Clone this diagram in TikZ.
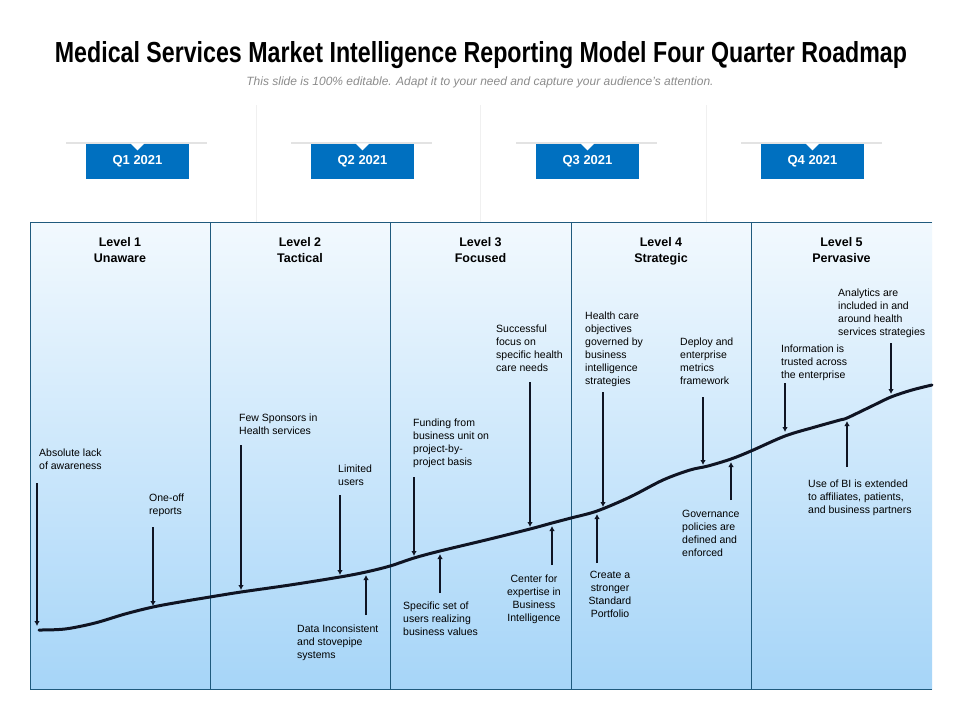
\documentclass[tikz,border=0pt]{standalone}
\usepackage{fontspec}
\setmainfont{Liberation Sans}
\usetikzlibrary{arrows.meta,calc}
\definecolor{qblue}{RGB}{0,112,192}
\definecolor{panelline}{RGB}{31,90,125}
\definecolor{ptop}{RGB}{242,249,254}
\definecolor{pmid}{RGB}{206,232,251}
\definecolor{pbot}{RGB}{166,213,248}
\definecolor{arrowc}{RGB}{15,20,35}
\definecolor{subgray}{RGB}{140,140,140}
\begin{document}
\begin{tikzpicture}[x=1pt,y=-1pt,
  tab/.style={fill=qblue, text=white, font=\bfseries\fontsize{13}{15}\selectfont, minimum width=103pt, minimum height=35pt, inner sep=0},
  lvl/.style={font=\bfseries\fontsize{12.5}{16}\selectfont, align=center, anchor=north, inner sep=0},
  anno/.style={font=\fontsize{10.5}{13}\selectfont, align=left, anchor=north west, inner sep=0},
  annoc/.style={font=\fontsize{10.5}{13}\selectfont, align=center, anchor=north, inner sep=0},
  arr/.style={line width=2.2pt, draw=arrowc, -{Latex[length=5pt,width=5.5pt]}},
  colline/.style={draw=panelline, line width=1pt},
  faint/.style={draw=gray!12, line width=0.8pt},
  tabshadow/.style={draw=gray!22, line width=1.6pt}
]
\useasboundingbox (0,0) rectangle (960,720);
\fill[white] (0,0) rectangle (960,720);

% title
\node[font=\bfseries\fontsize{29}{33}\selectfont, inner sep=0] (title) at (481,55) {\scalebox{0.80}[1]{Medical Services Market Intelligence Reporting Model Four Quarter Roadmap}};
\node[font=\itshape\fontsize{12}{14}\selectfont, text=subgray, inner sep=0] (sub) at (480,82.5) {This slide is 100\% editable. Adapt it to your need and capture your audience’s attention.};

% faint separators
\draw[faint] (256,105) -- (256,222);
\draw[faint] (480,105) -- (480,222);
\draw[faint] (706,105) -- (706,222);

% quarter tabs
\draw[tabshadow] (66,143) -- (207,143);
\draw[tabshadow] (291,143) -- (432,143);
\draw[tabshadow] (516,143) -- (657,143);
\draw[tabshadow] (741,143) -- (882,143);
\node[tab] (q1) at (137.5,161) {Q1 2021};
\node[tab] (q2) at (362.5,161) {Q2 2021};
\node[tab] (q3) at (587.5,161) {Q3 2021};
\node[tab] (q4) at (812.5,161) {Q4 2021};
\foreach \q in {q1,q2,q3,q4}{
  \fill[white] ($(\q.north)+(-7,0)$) -- ($(\q.north)+(7,0)$) -- ($(\q.north)+(0,7)$) -- cycle;
}

% panel
\shade[top color=ptop, middle color=pmid, bottom color=pbot] (30,222) rectangle (932,689);
\draw[colline] (932,222) -- (30,222) -- (30,689) -- (932,689);
\draw[colline] (210,222) -- (210,689);
\draw[colline] (390,222) -- (390,689);
\draw[colline] (571,222) -- (571,689);
\draw[colline] (751,222) -- (751,689);

% level headers
\node[lvl] (l1) at (120,237) {Level 1\\Unaware};
\node[lvl] (l2) at (300,237) {Level 2\\Tactical};
\node[lvl] (l3) at (480.5,237) {Level 3\\Focused};
\node[lvl] (l4) at (661,237) {Level 4\\Strategic};
\node[lvl] (l5) at (841.5,237) {Level 5\\Pervasive};

% curve
\draw[line width=3pt, draw=arrowc, line cap=round] plot[smooth, tension=0.55] coordinates {
 (39,630) (65,629) (95,623) (125,614) (153,607) (180,602) (210,597) (241,592)
 (290,585) (340,577) (366,572) (390,566) (414,558) (440,551) (490,539)
 (530,529) (552,523) (571,518) (597,511) (630,497) (663,480) (690,470) (708,466)
 (731,459) (751,451) (785,436) (815,427) (840,420) (847,418) (870,407) (891,397)
 (912,390) (932,385)};

% annotations
\node[anno] (t1) at (39,449) {Absolute lack\\of awareness};
\node[anno] (t2) at (149,494) {One-off\\reports};
\node[anno] (t3) at (239,414) {Few Sponsors in\\Health services};
\node[anno] (t4) at (338,465) {Limited\\users};
\node[anno] (t5) at (297,625) {Data Inconsistent\\and stovepipe\\systems};
\node[anno] (t6) at (413,419) {Funding from\\business unit on\\project-by-\\project basis};
\node[anno] (t7) at (403,602) {Specific set of\\users realizing\\business values};
\node[anno] (t8) at (496,325) {Successful\\focus on\\specific health\\care needs};
\node[annoc] (t9) at (534,575) {Center for\\expertise in\\Business\\Intelligence};
\node[anno] (t10) at (585,312) {Health care\\objectives\\governed by\\business\\intelligence\\strategies};
\node[annoc] (t11) at (610,571) {Create a\\stronger\\Standard\\Portfolio};
\node[anno] (t12) at (680,338) {Deploy and\\enterprise\\metrics\\framework};
\node[anno] (t13) at (682,510) {Governance\\policies are\\defined and\\enforced};
\node[anno] (t14) at (781,345) {Information is\\trusted across\\the enterprise};
\node[anno] (t15) at (838,289) {Analytics are\\included in and\\around health\\services strategies};
\node[anno] (t16) at (808,480) {Use of BI is extended\\to affiliates, patients,\\and business partners};

% arrow endpoints
\coordinate (a1s) at (37,483);  \coordinate (a1e) at (37,626);
\coordinate (a2s) at (153,527); \coordinate (a2e) at (153,606);
\coordinate (a3s) at (241,445); \coordinate (a3e) at (241,590);
\coordinate (a4s) at (340,495); \coordinate (a4e) at (340,575);
\coordinate (a5s) at (366,615); \coordinate (a5e) at (366,575);
\coordinate (a6s) at (414,477); \coordinate (a6e) at (414,556);
\coordinate (a7s) at (440,593); \coordinate (a7e) at (440,554);
\coordinate (a8s) at (530,382); \coordinate (a8e) at (530,527);
\coordinate (a9s) at (552,565); \coordinate (a9e) at (552,526);
\coordinate (a10s) at (603,392); \coordinate (a10e) at (603,507);
\coordinate (a11s) at (597,563); \coordinate (a11e) at (597,514);
\coordinate (a12s) at (703,397); \coordinate (a12e) at (703,465);
\coordinate (a13s) at (731,500); \coordinate (a13e) at (731,462);
\coordinate (a14s) at (785,383); \coordinate (a14e) at (785,432);
\coordinate (a15s) at (891,343); \coordinate (a15e) at (891,394);
\coordinate (a16s) at (847,467); \coordinate (a16e) at (847,421);

\draw[arr] (a1s) -- (a1e);
\draw[arr] (a2s) -- (a2e);
\draw[arr] (a3s) -- (a3e);
\draw[arr] (a4s) -- (a4e);
\draw[arr] (a5s) -- (a5e);
\draw[arr] (a6s) -- (a6e);
\draw[arr] (a7s) -- (a7e);
\draw[arr] (a8s) -- (a8e);
\draw[arr] (a9s) -- (a9e);
\draw[arr] (a10s) -- (a10e);
\draw[arr] (a11s) -- (a11e);
\draw[arr] (a12s) -- (a12e);
\draw[arr] (a13s) -- (a13e);
\draw[arr] (a14s) -- (a14e);
\draw[arr] (a15s) -- (a15e);
\draw[arr] (a16s) -- (a16e);
\end{tikzpicture}
\end{document}
